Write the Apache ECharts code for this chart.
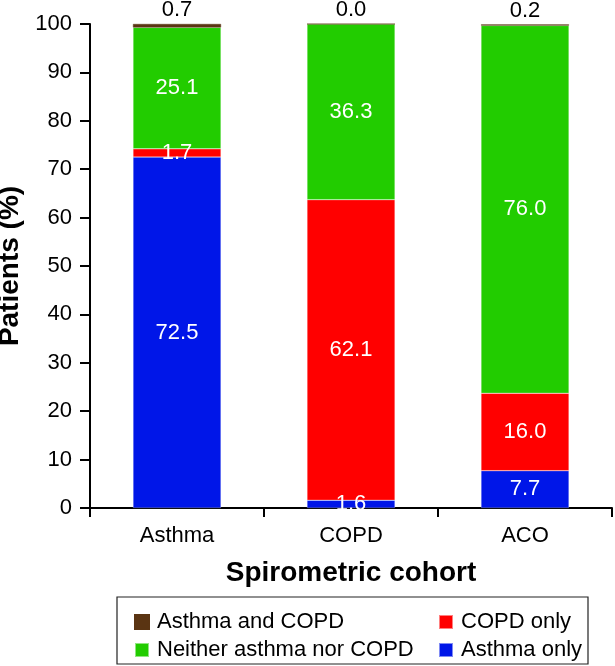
<!DOCTYPE html>
<html>
<head>
<meta charset="utf-8">
<script src="https://cdn.jsdelivr.net/npm/echarts@6/dist/echarts.min.js"></script>
<style>
    html, body { margin: 0; padding: 0; background: #fff; }
    #main { width: 615px; height: 666px; }
</style>
</head>
<body>
<div id="main"></div>
<script>
// spirometric cohorts on the x axis
const cohorts = ['Asthma', 'COPD', 'ACO'];
// percentages per cohort, bottom to top
const asthmaOnly = [72.5, 1.6, 7.7];
const copdOnly = [1.7, 62.1, 16.0];
const neither = [25.1, 36.3, 76.0];
const asthmaAndCopd = [0.7, 0.0, 0.2];
const yTicks = [0, 100, 10]; // min, max, step

const FONT = '"Liberation Sans", Arial, sans-serif';

let chart = echarts.init(document.getElementById('main'));

const inner = {
    show: true,
    position: 'inside',
    color: '#fff',
    fontSize: 22,
    fontFamily: FONT,
    formatter: p => p.value.toFixed(1)
};

const mk = (name, data, color, label, border) => ({
    name: name,
    type: 'bar',
    stack: 'all',
    data: data,
    barWidth: 88,
    itemStyle: { color: color, borderColor: border || 'rgba(255,255,255,0.5)', borderWidth: 0.5 },
    label: label,
    emphasis: { disabled: true }
});

let option = {
    animation: false,
    backgroundColor: '#fff',
    textStyle: { fontFamily: FONT },
    grid: { left: 90, right: 3, top: 24, bottom: 158, containLabel: false, outerBoundsMode: 'none' },
    xAxis: {
        type: 'category',
        data: cohorts,
        name: 'Spirometric cohort',
        nameLocation: 'middle',
        nameGap: 51,
        nameTextStyle: { fontSize: 28, fontWeight: 'bold', color: '#000', fontFamily: FONT },
        axisLine: { lineStyle: { color: '#000', width: 2 } },
        axisTick: { show: true, length: 9, lineStyle: { color: '#000', width: 2 } },
        axisLabel: { fontSize: 22, color: '#000', margin: 17, fontFamily: FONT }
    },
    yAxis: {
        type: 'value',
        min: yTicks[0],
        max: yTicks[1],
        interval: yTicks[2],
        name: 'Patients (%)',
        nameLocation: 'middle',
        nameGap: 42,
        nameTextStyle: { fontSize: 28, fontWeight: 'bold', color: '#000', fontFamily: FONT },
        splitLine: { show: false },
        axisLine: { show: true, lineStyle: { color: '#000', width: 2 } },
        axisTick: { show: true, length: 10, lineStyle: { color: '#000', width: 2 } },
        axisLabel: { fontSize: 22, color: '#000', margin: 18, fontFamily: FONT }
    },
    legend: [
        {
            orient: 'vertical',
            left: 129,
            top: 606,
            itemWidth: 14,
            itemHeight: 14,
            itemGap: 6,
            icon: 'rect',
            textStyle: { fontSize: 22, color: '#000', fontFamily: FONT, padding: [0, 0, 0, 3] },
            data: ['Asthma and COPD', 'Neither asthma nor COPD']
        },
        {
            orient: 'vertical',
            left: 433,
            top: 606,
            itemWidth: 14,
            itemHeight: 14,
            itemGap: 6,
            icon: 'rect',
            textStyle: { fontSize: 22, color: '#000', fontFamily: FONT, padding: [0, 0, 0, 3] },
            data: ['COPD only', 'Asthma only']
        }
    ],
    graphic: [{
        type: 'rect',
        shape: { x: 117, y: 597, width: 471, height: 67 },
        style: { fill: 'none', stroke: '#222', lineWidth: 1.2 },
        silent: true
    }],
    series: [
        mk('Asthma only', asthmaOnly, '#0016e8', inner),
        mk('COPD only', copdOnly, '#ff0000', inner),
        mk('Neither asthma nor COPD', neither, '#22cc00', inner),
        mk('Asthma and COPD', asthmaAndCopd, '#5a3412', {
            show: true,
            position: 'top',
            distance: 3,
            color: '#000',
            fontSize: 22,
            fontFamily: FONT,
            formatter: p => p.value.toFixed(1)
        }, '#5a3412')
    ]
};

chart.setOption(option);
</script>
</body>
</html>
